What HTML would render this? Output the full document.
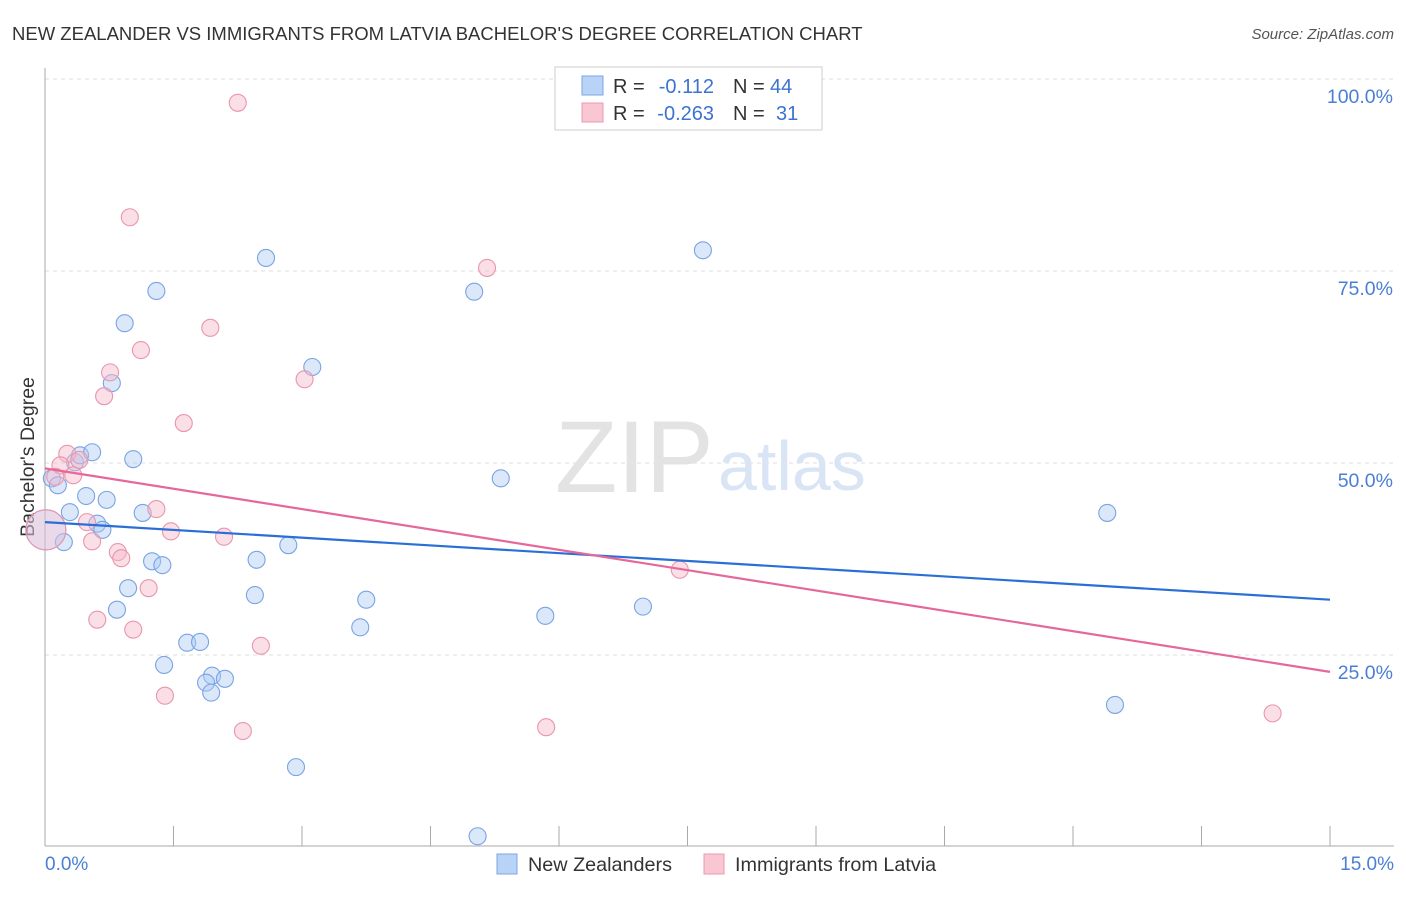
<!DOCTYPE html>
<html><head><meta charset="utf-8"><style>
body{margin:0;background:#fff;font-family:"Liberation Sans",sans-serif}
svg text{font-family:"Liberation Sans",sans-serif}
</style></head><body>
<svg width="1406" height="892" viewBox="0 0 1406 892" xmlns="http://www.w3.org/2000/svg">
<text x="12" y="40" font-size="18.5" fill="#333">NEW ZEALANDER VS IMMIGRANTS FROM LATVIA BACHELOR'S DEGREE CORRELATION CHART</text>
<text x="1394" y="39" font-size="15" fill="#555" font-style="italic" text-anchor="end">Source: ZipAtlas.com</text>
<g id="grid"></g>
<text x="555" y="492" font-size="102" fill="#e3e3e3" font-family="Liberation Serif">ZIP</text>
<text x="718" y="490" font-size="70" fill="#d9e5f5">atlas</text>
<line x1="45" y1="68" x2="45" y2="846" stroke="#aaa"/>
<line x1="45" y1="846" x2="1394" y2="846" stroke="#aaa"/>
<text transform="translate(34,457) rotate(-90)" font-size="19.5" fill="#333" text-anchor="middle">Bachelor's Degree</text>
<text x="45" y="870" font-size="19" fill="#4a7fd4">0.0%</text>
<text x="1394" y="870" font-size="19" fill="#4a7fd4" text-anchor="end">15.0%</text>
<g id="pts"></g><g id="trend"></g>
<g>
<rect x="555" y="67" width="267" height="63" fill="#fff" stroke="#ccc"/>
<rect x="582" y="76" width="21" height="19" fill="#b9d3f7" stroke="#7aa6e6"/>
<rect x="582" y="103" width="21" height="19" fill="#f9c6d4" stroke="#eb98b0"/>
<text x="613" y="93" font-size="20" fill="#333">R =</text>
<text x="714" y="93" font-size="20" fill="#3b73d1" text-anchor="end">-0.112</text>
<text x="733" y="93" font-size="20" fill="#333">N =</text>
<text x="770" y="93" font-size="20" fill="#3b73d1">44</text>
<text x="613" y="120" font-size="20" fill="#333">R =</text>
<text x="714" y="120" font-size="20" fill="#3b73d1" text-anchor="end">-0.263</text>
<text x="733" y="120" font-size="20" fill="#333">N =</text>
<text x="776" y="120" font-size="20" fill="#3b73d1">31</text>
</g>
<g><rect x="497" y="854" width="20" height="20" fill="#b9d3f7" stroke="#7aa6e6"/><text x="528" y="871" font-size="19.8" fill="#333">New Zealanders</text></g>
<g><rect x="704" y="854" width="20" height="20" fill="#f9c6d4" stroke="#eb98b0"/><text x="735" y="871" font-size="19.8" fill="#333">Immigrants from Latvia</text></g>
</svg>
<script>
const yTicks=[25,50,75,100];
const yTickLabels=["25.0%","50.0%","75.0%","100.0%"];
const blueX=[0.08,0.15,0.29,0.22,0.35,0.41,0.55,0.48,0.72,0.61,0.67,0.78,0.93,1.03,1.14,1.25,1.37,0.97,0.84,1.30,1.39,1.66,1.81,1.95,1.88,1.94,2.10,2.58,2.45,2.47,2.84,3.12,2.93,3.75,3.68,5.01,5.32,5.84,6.98,7.68,12.40,12.49,5.05,0.01];
const blueY=[48.0,47.1,43.6,39.7,50.1,51.0,51.4,45.7,45.2,42.1,41.3,60.4,68.2,50.5,43.5,37.2,36.7,33.7,30.9,72.4,23.7,26.6,26.7,22.3,21.4,20.1,21.9,76.7,32.8,37.4,39.3,62.5,10.4,32.2,28.6,72.3,48.0,30.1,31.3,77.7,43.5,18.5,1.4,41.3];
const pinkX=[2.25,0.99,5.16,1.93,1.12,0.76,3.03,0.69,1.62,0.26,0.18,0.40,0.33,0.12,1.30,0.49,1.47,2.09,0.55,0.85,0.89,1.21,0.61,1.03,2.52,1.40,2.31,5.85,7.41,14.33,0.01];
const pinkY=[96.9,82.0,75.4,67.6,64.7,61.8,60.9,58.7,55.2,51.2,49.7,50.4,48.4,48.2,44.0,42.3,41.1,40.4,39.8,38.4,37.6,33.7,29.6,28.3,26.2,19.7,15.1,15.6,36.1,17.4,41.3];
const blueTrend=[42.3,32.2];
const pinkTrend=[49.3,22.8];
const trendX=[0,15];
const xTicks=[0,1.5,3,4.5,6,7.5,9,10.5,12,13.5,15];
const NS="http://www.w3.org/2000/svg";
const sx=v=>45+v/15*1285, sy=v=>847-v*7.68;
function mk(t,a,p){const e=document.createElementNS(NS,t);for(const k in a)e.setAttribute(k,a[k]);p.appendChild(e);return e;}
const grid=document.getElementById('grid');
yTicks.forEach((t,i)=>{
 const l=mk('line',{x1:45,x2:1394,y1:sy(t),y2:sy(t),stroke:'#ddd','stroke-dasharray':'4 4'},grid);
 
 
 const tx=mk('text',{x:1393,y:sy(t)+24,'font-size':19.5,fill:'#4a7fd4','text-anchor':'end'},grid);
 tx.textContent=yTickLabels[i];
 
 
});
xTicks.forEach(t=>{
 const l=mk('line',{x1:sx(t),x2:sx(t),y1:826,y2:846,stroke:'#aaa'},grid);
 
 
});
const pts=document.getElementById('pts');
function dots(X,Y,fill,stroke,name){
 X.forEach((x,i)=>{
  const big=(i===X.length-1);
  const c=mk('circle',{cx:sx(x),cy:sy(Y[i]),r:big?20:8.5,fill:fill,'fill-opacity':big?0.35:0.45,stroke:stroke,'stroke-width':1.1},pts);
  
  
 });
}
dots(blueX,blueY,'#aecbf3','#7aa3e3','new-zealander-point');
dots(pinkX,pinkY,'#f7b7c9','#e995ae','latvia-point');
const tr=document.getElementById('trend');
const b=mk('line',{x1:sx(trendX[0]),y1:sy(blueTrend[0]),x2:sx(trendX[1]),y2:sy(blueTrend[1]),stroke:'#2a6fd6','stroke-width':2.2},tr);


const p=mk('line',{x1:sx(trendX[0]),y1:sy(pinkTrend[0]),x2:sx(trendX[1]),y2:sy(pinkTrend[1]),stroke:'#e5689a','stroke-width':2.2},tr);


</script>
</body></html>
